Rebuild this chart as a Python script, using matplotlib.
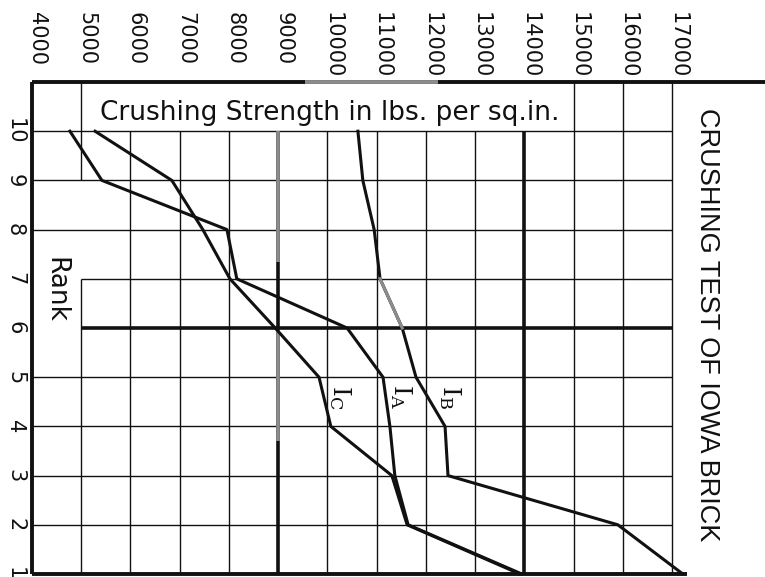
import matplotlib.pyplot as plt

# rank 1..10 against crushing strength (lbs. per sq.in.)
rank = [1, 2, 3, 4, 5, 6, 7, 8, 9, 10]
strength_a = [13950, 11640, 11370, 11270, 11130, 10400, 8160, 7960, 5420, 4770]
strength_b = [17220, 15900, 12450, 12390, 11800, 11520, 11070, 10950, 10720, 10620]
strength_c = [13910, 11620, 11310, 10070, 9830, 8940, 8020, 7470, 6840, 5280]

strength_ticks = list(range(4000, 18000, 1000))
rank_ticks = list(range(1, 11))
series_labels = [r'$\mathrm{I_A}$', r'$\mathrm{I_B}$', r'$\mathrm{I_C}$']
title = "CRUSHING TEST OF IOWA BRICK"
value_label = "Crushing Strength in lbs. per sq.in."

ink = '#111111'
faded = '#8c8c8c'

fig = plt.figure(figsize=(7.65, 5.77), dpi=100)
ax = fig.add_axes([32/765, 3/577, 733/765, 492/577])
ax.set_xlim(4000, 4000 + 733/0.049231)
ax.set_ylim(1, 11)
ax.axis('off')

# thin grid
thin = dict(colors=ink, lw=1.0, clip_on=False)
for v in strength_ticks[1:]:
    if v == 5000:
        ax.vlines(v, 1, 7, **thin)
        ax.vlines(v, 9, 11, **thin)
    elif v >= 15000:
        ax.vlines(v, 1, 11, **thin)
    elif v not in (9000, 14000):
        ax.vlines(v, 1, 10, **thin)
for r in rank_ticks[1:]:
    if r == 7:
        ax.hlines(r, 5000, 17000, **thin)
    elif r != 6:
        ax.hlines(r, 4000, 17000, **thin)

# heavy lines
ax.vlines(9000, 1, 10, colors=ink, lw=2.6)
ax.vlines(9000, 7.35, 10, colors=faded, lw=2.6)
ax.vlines(9000, 3.7, 5.95, colors=faded, lw=2.6)
ax.vlines(14000, 1, 10, colors=ink, lw=2.6)
ax.hlines(6, 5000, 17000, colors=ink, lw=2.6)

# frame
ax.hlines(11, 4000, 20000, colors=ink, lw=2.8, clip_on=False)
ax.hlines(11, 9550, 12250, colors=faded, lw=2.8, clip_on=False)
ax.vlines(4000, 1, 11, colors=ink, lw=2.8, clip_on=False)
ax.hlines(1, 4000, 17300, colors=ink, lw=2.8, clip_on=False)

# the three curves
for s in (strength_a, strength_b, strength_c):
    ax.plot(s, rank, color=ink, lw=2.2, solid_joinstyle='round', clip_on=False)
ax.plot(strength_b[5:7], rank[5:7], color=faded, lw=2.2)

label_x = [11500, 12480, 10250]
for x, lab in zip(label_x, series_labels):
    ax.text(x, 4.6, lab, rotation=-90, fontsize=18, ha='center',
            va='center', math_fontfamily='dejavuserif', color=ink)

# axis labels, all turned a quarter
for v in strength_ticks:
    ax.text(v + 110, 12.42, str(v), rotation=-90, fontsize=15, ha='center',
            va='top', color=ink, clip_on=False)
for r in rank_ticks:
    ax.text(3655, r, str(r), rotation=-90, fontsize=15, ha='center',
            va='center', color=ink, clip_on=False)

ax.text(4470, 6.77, "Rank", rotation=-90, fontsize=19, ha='center',
        va='center', color=ink)
ax.text(10050, 10.37, value_label, fontsize=19, ha='center', va='center',
        color=ink)
ax.text(17710, 6.06, title, rotation=-90, fontsize=19.5, ha='center',
        va='center', color=ink, family='Liberation Sans')

fig.savefig('out.png', dpi=100)
